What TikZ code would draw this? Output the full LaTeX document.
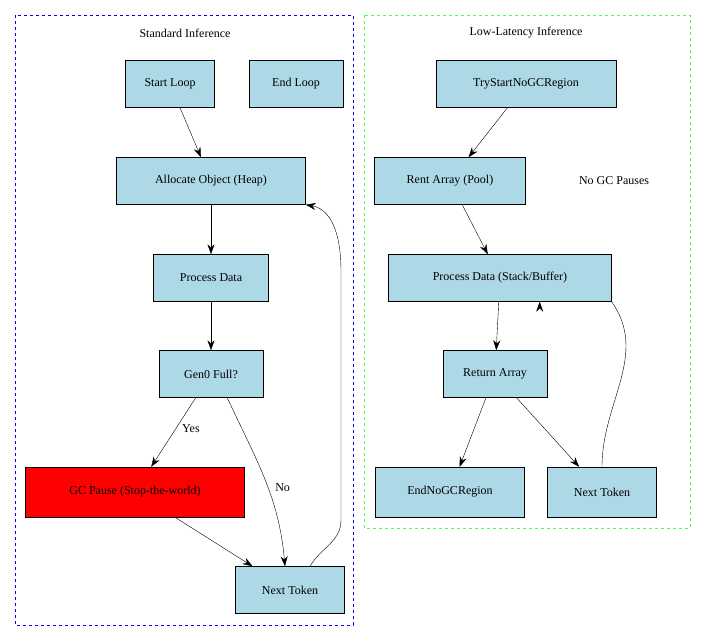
\documentclass[tikz,border=0pt]{standalone}
\usepackage{fontspec}
\setmainfont{Liberation Serif}
\usetikzlibrary{arrows.meta}
\tikzset{
  stepbox/.style={draw=black,fill=cyan!15!blue!8!white,fill=lightblue,minimum height=47pt,inner xsep=9pt,font=\fontsize{12}{14}\selectfont},
  flow/.style={-{Stealth[length=10pt,width=7pt]},black},
  lbl/.style={font=\fontsize{12}{14}\selectfont},
}
\definecolor{lightblue}{RGB}{173,216,230}
\begin{document}
\begin{tikzpicture}[x=1pt,y=-1pt]
\useasboundingbox (0,0) rectangle (705,641);
% Drawing clusters
\draw[blue,dashed] (15,15) rectangle (353,625);
\node[lbl] (stdtitle) at (185,33) {Standard Inference};
\draw[green!70!white,dashed] (364,15) rectangle (690,528);
\node[lbl] (lowtitle) at (526,33) {Low-Latency Inference};
% Standard nodes
\node[stepbox,minimum width=89pt] (start) at (170,84) {Start Loop};
\node[stepbox,minimum width=94pt] (end) at (296,84) {End Loop};
\node[stepbox,minimum width=189pt] (alloc) at (211,181) {Allocate Object (Heap)};
\node[stepbox,minimum width=115pt] (proc) at (211,278) {Process Data};
\node[stepbox,minimum width=104pt] (gen) at (211,374) {Gen0 Full?};
\node[stepbox,fill=red,minimum width=219pt,minimum height=50pt] (gc) at (135,492) {GC Pause (Stop-the-world)};
\node[stepbox,minimum width=109pt] (next) at (290,590) {Next Token};
% Low-latency nodes
\node[stepbox,minimum width=180pt] (try) at (526,84) {TryStartNoGCRegion};
\node[stepbox,minimum width=151pt] (rent) at (450,181) {Rent Array (Pool)};
\node[lbl] (nogc) at (614,181) {No GC Pauses};
\node[stepbox,minimum width=223pt] (procb) at (500,278) {Process Data (Stack/Buffer)};
\node[stepbox,minimum width=104pt] (ret) at (495,374) {Return Array};
\node[stepbox,minimum width=149pt,minimum height=50pt] (endno) at (450,492) {EndNoGCRegion};
\node[stepbox,minimum width=109pt,minimum height=50pt] (nextb) at (602,492) {Next Token};
% Edges
\draw[flow] (start) -- (alloc);
\draw[flow] (alloc) -- (proc);
\draw[flow] (proc) -- (gen);
\draw[flow] (gen) -- node[lbl,right=3pt,pos=0.45] {Yes} (gc);
\draw[flow] (gen.south east) ++(-36,0) to[out=-65,in=95] node[lbl,right=4pt,pos=0.55] {No} (next.north west -| 285,0) ;
\draw[flow] (gc) -- (next);
\draw[flow] (next.north) ++(20,0) to[out=60,in=-90] (341,520) -- (341,270) to[out=90,in=-10] (alloc.south east);
\draw[flow] (try) -- (rent);
\draw[flow] (rent) -- (procb);
\draw[flow] (procb) -- (ret);
\draw[flow] (ret) -- (endno);
\draw[flow] (ret) -- (nextb);
\draw[flow] (nextb) to[out=90,in=-55] (procb.south east) ++(-72,0);
\end{tikzpicture}
\end{document}
